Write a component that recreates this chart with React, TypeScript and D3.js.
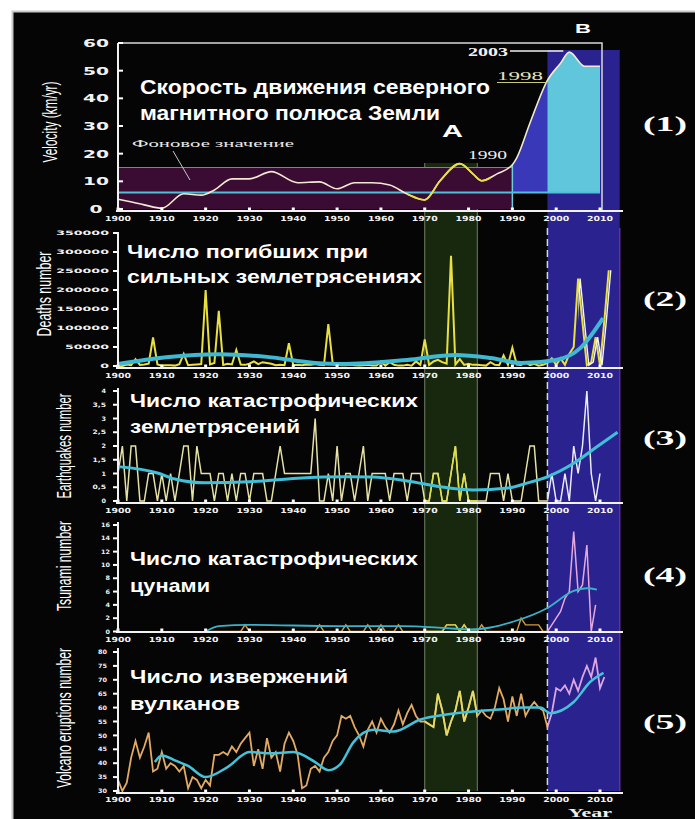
import React from "react";
import * as d3 from "d3";

// ---------- data ----------
const decades = d3.range(1900, 2011, 10);

// (1) velocity of the north magnetic pole, km/yr
const velYears = [1900, 1902, 1906, 1910, 1915, 1919, 1922, 1926, 1930, 1935, 1941, 1946, 1950, 1954, 1958, 1962, 1966, 1970, 1973.5, 1978, 1981, 1983, 1986.5, 1990, 1991, 1994, 1998, 2001, 2003, 2006.5, 2010];
const velValues = [3.5, 2.9, 1.5, 0.3, 5.5, 5, 6.9, 10.9, 10.9, 13.5, 9.5, 9.8, 7.3, 9.5, 9.5, 8.7, 5.4, 3.3, 10.2, 16.4, 12.7, 10.2, 12.7, 16, 18.5, 31, 46.5, 52.7, 56.7, 51.6, 51.6];
const velTicks = [0, 10, 20, 30, 40, 50, 60];
const velBase = 6; // background level
const velBandTop = 15;

// (2) deaths in strong earthquakes, thousands
const deathYears = d3.range(1900, 2013);
const deathValues = [
  0, 0, 4, 2, 18, 3, 4, 6, 75, 4,
  1, 2, 2, 1, 5, 32, 2, 3, 4, 5,
  200, 4, 8, 145, 3, 6, 4, 42, 4, 3,
  6, 12, 5, 10, 8, 6, 2, 3, 2, 60,
  2, 3, 2, 4, 3, 5, 3, 2, 110, 6,
  4, 2, 2, 3, 2, 1, 2, 3, 1, 1,
  12, 1, 10, 3, 1, 1, 3, 1, 12, 3,
  70, 3, 12, 16, 10, 6, 290, 4, 18, 3,
  6, 3, 3, 2, 1, 10, 3, 2, 28, 3,
  48, 4, 3, 10, 2, 6, 1, 3, 8, 20,
  3, 20, 3, 32, 50, 230, 115, 2, 10, 76,
  2, 120, 252,
];
const deathTrendYears = [1900, 1911, 1923, 1934, 1945, 1951, 1966, 1977, 1985, 1992, 2000, 2005.5, 2010.7];
const deathTrendValues = [5, 23, 31, 24, 8, 5, 16, 29, 21, 8, 16, 47, 126];
const deathTicks = [0, 50, 100, 150, 200, 250, 300, 350];

// (3) catastrophic earthquakes
const eqYears = d3.range(1900, 2011);
const eqValues = [
  1, 2, 0, 2, 2, 0, 0, 1, 1, 0,
  1, 0, 1, 0, 1, 2, 2, 0, 2, 1,
  1, 1, 0, 1, 1, 0, 1, 0, 1, 1,
  0, 1, 1, 1, 0, 0, 1, 2, 1, 1,
  1, 1, 1, 1, 1, 3, 0, 0, 1, 0,
  2, 0, 1, 1, 0, 1, 2, 0, 1, 1,
  1, 1, 0, 1, 1, 1, 0, 1, 1, 1,
  0, 0, 1, 1, 0, 0, 1, 2, 0, 1,
  0, 0, 0, 0, 0, 1, 1, 1, 0, 1,
  0, 0, 0, 1, 2, 2, 0, 0, 0, 1,
  0, 0, 1, 0, 2, 1, 2, 4, 1, 0,
  1,
];
const eqTrendYears = [1900, 1909, 1913, 1920, 1930, 1941, 1952, 1958, 1966, 1973.5, 1981, 1989, 1993.3, 1998, 2004, 2009.3, 2014];
const eqTrendValues = [1.25, 1.02, 0.8, 0.66, 0.7, 0.83, 0.88, 0.87, 0.73, 0.52, 0.4, 0.47, 0.65, 0.88, 1.37, 1.97, 2.5];
const eqTicks = [0, 0.5, 1, 1.5, 2, 2.5, 3, 3.5, 4];

// (4) catastrophic tsunami
const tsuYears = [1920, 1928, 1929, 1930, 1945, 1946, 1947, 1951, 1952, 1953, 1956, 1957, 1958, 1959, 1960, 1961, 1963, 1964, 1965, 1974, 1975, 1976, 1977, 1978, 1979, 1980, 1982, 1983, 1984, 1991, 1992, 1993, 1994, 1995, 1996, 1997, 1998, 1999, 2000, 2001, 2002, 2003, 2004, 2005, 2006, 2007, 2008, 2009];
const tsuValues = [0, 0, 1, 0, 0, 1, 0, 0, 1, 0, 0, 1, 0, 0, 1, 0, 0, 1, 0, 0, 1, 1, 1, 0, 1, 0, 0, 1, 0, 0, 2, 1, 1, 1, 1, 0, 0, 1, 2, 3, 5, 6, 15, 6, 7, 13, 0, 4];
const tsuTrendYears = [1920, 1923, 1930, 1950, 1965, 1975, 1980.4, 1985, 1990.3, 1997.9, 2004, 2007, 2009.3];
const tsuTrendValues = [0, 0.8, 1.0, 0.8, 0.8, 0.5, 0.3, 0.6, 1.5, 3.5, 6.1, 6.5, 6.3];
const tsuTicks = [0, 2, 4, 6, 8, 10, 12, 14, 16];

// (5) volcano eruptions
const volYears = d3.range(1900, 2012);
const volValues = [
  34, 30, 33, 42, 48, 42, 46, 51, 37, 38,
  44, 38, 40, 39, 37, 39, 31, 35, 34, 31,
  34, 32, 43, 43, 44, 43, 46, 44, 47, 49,
  51, 39, 45, 38, 49, 42, 44, 37, 47, 51,
  48, 43, 31, 32, 38, 39, 37, 42, 44, 48,
  50, 57, 56, 57, 53, 50, 46, 52, 55, 51,
  56, 53, 51, 54, 59, 54, 58, 61, 57, 55,
  55, 54, 53, 65, 59, 50, 55, 59, 66, 55,
  60, 66, 57, 59, 57, 56, 60, 67, 63, 55,
  64, 57, 65, 57, 60, 62, 60, 59, 53, 58,
  67, 66, 68, 65, 70, 66, 71, 75, 71, 78,
  67, 71,
];
const volTrendYears = [1908.4, 1910, 1913, 1916, 1920, 1925, 1930, 1935, 1940, 1945, 1948, 1950.7, 1953.7, 1958.3, 1962.9, 1969, 1975, 1981, 1987, 1992.6, 1996.4, 1998.6, 2004, 2007.8, 2010.8];
const volTrendValues = [40.4, 42.8, 41, 39, 35, 38.6, 44, 43.6, 44, 40.4, 37.5, 39.6, 47.5, 52, 51.4, 55.7, 57.5, 58.6, 59.3, 60, 60, 58, 62, 69.3, 72.5];
const volTicks = [30, 35, 40, 45, 50, 55, 60, 65, 70, 75, 80];

// ---------- scales ----------
const x = d3.scaleLinear().domain([1900, 2010]).range([118, 600]);
const yVel = d3.scaleLinear().domain([0, 60]).range([209, 43]);
const yDeath = d3.scaleLinear().domain([0, 350]).range([366, 233]);
const yEq = d3.scaleLinear().domain([0, 4]).range([501, 391]);
const yTsu = d3.scaleLinear().domain([0, 16]).range([631.5, 525]);
const yVol = d3.scaleLinear().domain([30, 80]).range([791, 652]);

const mk = (xs: number[], ys: number[], ysc: any, curve: any) =>
  d3.line<number>().x((_, i) => x(xs[i])).y((d) => ysc(d)).curve(curve)(ys) || "";

const TICK_FONT = "DejaVu Sans, Verdana, sans-serif";
const WHITE = "#f2f2f2";

function XAxis({ y0, labelY }: { y0: number; labelY: number }) {
  return (
    <g>
      <line x1={116} x2={623} y1={y0} y2={y0} stroke={WHITE} strokeWidth={2} />
      {decades.map((d) => (
        <g key={d}>
          <rect x={x(d) - 1.5} y={y0 - 3.5} width={3} height={2.5} fill="#fff" />
          <text x={x(d)} y={labelY} textAnchor="middle" fontSize={7} fontWeight="bold" fontFamily={TICK_FONT} fill={WHITE} textLength={26} lengthAdjust="spacingAndGlyphs">
            {d}
          </text>
        </g>
      ))}
    </g>
  );
}

function YAxis({ ysc, ticks, fmt, top, bottom, lx, anchor, size, charW }: any) {
  return (
    <g>
      <line x1={118} x2={118} y1={top} y2={bottom} stroke={WHITE} strokeWidth={2} />
      {ticks.map((t: number) => {
        const s = fmt(t);
        return (
          <g key={t}>
            <rect x={anchor === "middle" ? 118 : 113} y={ysc(t) - 1} width={anchor === "middle" ? 5 : 4} height={2} fill="#fff" />
            <text x={lx} y={ysc(t) + size * 0.36} textAnchor={anchor} fontSize={size} fontWeight="bold" fontFamily={TICK_FONT} fill={WHITE} textLength={s.length * charW} lengthAdjust="spacingAndGlyphs">
              {s}
            </text>
          </g>
        );
      })}
    </g>
  );
}

function Title({ lines, x0, ys, size, widths }: any) {
  return (
    <g fill="#fff" fontWeight="bold" fontSize={size} fontFamily="Liberation Sans, Arial, sans-serif">
      {lines.map((l: string, i: number) => (
        <text key={i} x={x0} y={ys[i]} textLength={widths[i]} lengthAdjust="spacingAndGlyphs">
          {l}
        </text>
      ))}
    </g>
  );
}

function YLabel({ text, bx, cy, len }: any) {
  return (
    <text transform={`translate(${bx},${cy}) rotate(-90)`} textAnchor="middle" fontSize={21} fill="#fff" fontFamily="Liberation Sans Narrow, Liberation Sans, Arial, sans-serif" textLength={len} lengthAdjust="spacingAndGlyphs">
      {text}
    </text>
  );
}

function Num({ label, y }: any) {
  return (
    <text x={643} y={y} fontSize={21} fontWeight="bold" fontFamily="Liberation Serif, Times New Roman, serif" fill="#fff" textLength={44} lengthAdjust="spacingAndGlyphs">
      {label}
    </text>
  );
}

const clip = (id: string, a: number, b: number) => (
  <clipPath id={id} key={id}>
    <rect x={x(a)} y={0} width={x(b) - x(a)} height={819} />
  </clipPath>
);

export default function App() {
  const smooth = d3.curveMonotoneX;
  const lin = d3.curveLinear;

  const velPath = mk(velYears, velValues, yVel, smooth);
  const velArea =
    d3.area<number>().x((_, i) => x(velYears[i])).y0(yVel(velBase)).y1((d) => yVel(d)).curve(smooth)(velValues) || "";

  const deathPath = mk(deathYears, deathValues, yDeath, lin);
  const eqPath = mk(eqYears, eqValues, yEq, lin);
  const tsuPath = mk(tsuYears, tsuValues, yTsu, lin);
  const volPath = mk(volYears, volValues, yVol, lin);

  const bandTop = 50;
  const bandBottom = 791;
  const greenTop = 163;

  const fmtDeath = (t: number) => String(t * 1000);
  const fmtComma = (t: number) => String(t).replace(".", ",");

  return (
    <svg width={695} height={819} style={{ position: "absolute", left: 0, top: 0 }}>
      <defs>
        {clip("c-pre98", 1850, 1998)}
        {clip("c-post98", 1998, 2040)}
        {clip("c-green", 1970, 1982)}
        {clip("c-9098", 1990, 1998)}
        {clip("c-yel", 1966, 1985)}
        {clip("c-post04", 2004.6, 2040)}
      </defs>
      <rect width={695} height={819} fill="#fff" />
      <rect x={12.5} y={11.5} width={690} height={815} fill="#050505" stroke="#c8c8c8" strokeWidth={2} />

      {/* background bands */}
      <rect x={x(1970)} y={greenTop} width={x(1982) - x(1970)} height={bandBottom - greenTop} fill="#18280f" />
      <line x1={x(1970)} x2={x(1970)} y1={greenTop} y2={bandBottom} stroke="#6f7f66" strokeWidth={1} />
      <line x1={x(1982)} x2={x(1982)} y1={greenTop} y2={bandBottom} stroke="#6f7f66" strokeWidth={1} />
      <rect x={x(1998)} y={bandTop} width={x(2014.5) - x(1998)} height={bandBottom - bandTop} fill="#2a228e" />
      <line x1={x(2014.5)} x2={x(2014.5)} y1={228} y2={bandBottom} stroke="#6a2e98" strokeWidth={1.5} />

      {/* ---------- panel 1 ---------- */}
      <rect x={x(1900)} y={yVel(velBandTop)} width={x(1990) - x(1900)} height={yVel(0) - yVel(velBandTop)} fill="#3a0b33" />
      <line x1={x(1900)} x2={x(1990)} y1={yVel(velBandTop)} y2={yVel(velBandTop)} stroke="#8c7c8c" strokeWidth={1} />
      <path d={velArea} fill="#3838b8" clipPath="url(#c-9098)" />
      <path d={velArea} fill="#5fc6dc" clipPath="url(#c-post98)" />
      <line x1={x(1990)} x2={x(1990)} y1={yVel(0)} y2={yVel(16)} stroke="#6cd0e0" strokeWidth={1.5} />
      <line x1={x(1900)} x2={x(2010)} y1={yVel(velBase)} y2={yVel(velBase)} stroke="#52bfd8" strokeWidth={2} />
      <path d={velPath} fill="none" stroke="#f2ead0" strokeWidth={1.6} />
      <path d={velPath} fill="none" stroke="#e6e040" strokeWidth={1.8} clipPath="url(#c-yel)" />
      <polyline points={`118,43 602,43 602,211`} fill="none" stroke="#d8d8d8" strokeWidth={1.5} />
      <XAxis y0={211} labelY={221} />
      <YAxis ysc={yVel} ticks={velTicks} fmt={String} top={43} bottom={211} lx={96} anchor="middle" size={11} charW={13} />
      <YLabel text="Velocity (km/yr)" bx={57} cy={122} len={81} />
      <Title lines={["Скорость движения северного", "магнитного полюса Земли"]} x0={140} ys={[94, 120]} size={21} widths={[350, 300]} />
      <text x={132} y={147} fontSize={11} fontFamily="Liberation Serif, serif" fill="#e8e8e8" textLength={162} lengthAdjust="spacingAndGlyphs">
        Фоновое значение
      </text>
      <line x1={173} y1={151} x2={190} y2={180} stroke="#c8c8c8" strokeWidth={1} />
      <text x={468} y={159} fontSize={12} fontFamily="Liberation Serif, serif" fill="#f0f0f0" textLength={39} lengthAdjust="spacingAndGlyphs">1990</text>
      <text x={468} y={56} fontSize={12} fontWeight="bold" fontFamily="Liberation Serif, serif" fill="#f0f0f0" textLength={40} lengthAdjust="spacingAndGlyphs">2003</text>
      <line x1={510} x2={x(2003) - 6} y1={51} y2={51} stroke="#f0f0f0" strokeWidth={1.5} />
      <text x={497} y={80} fontSize={12} fontFamily="Liberation Serif, serif" fill="#e4e4c0" textLength={46} lengthAdjust="spacingAndGlyphs">1998</text>
      <line x1={497} x2={x(1998)} y1={82.5} y2={82.5} stroke="#c8c878" strokeWidth={1.2} />
      <text x={442} y={137} fontSize={17} fontWeight="bold" fontFamily="Liberation Sans, Arial, sans-serif" fill="#fff" textLength={21} lengthAdjust="spacingAndGlyphs">A</text>
      <text x={575} y={33} fontSize={13} fontWeight="bold" fontFamily="Liberation Sans, Arial, sans-serif" fill="#fff" textLength={16} lengthAdjust="spacingAndGlyphs">B</text>
      <Num label="(1)" y={131} />

      {/* dashed 1998 marker */}
      <line x1={x(1998)} x2={x(1998)} y1={228} y2={bandBottom} stroke="#c9dbe8" strokeWidth={1.5} strokeDasharray="7,4" />

      {/* ---------- panel 2 ---------- */}
      <path d={deathPath} fill="none" stroke="#e8e040" strokeWidth={2} />
      <path d={deathPath} fill="none" stroke="#f4f4f4" strokeWidth={1.4} clipPath="url(#c-post04)" transform="translate(2,0)" />
      <path d={mk(deathTrendYears, deathTrendValues, yDeath, smooth)} fill="none" stroke="#3fb8d2" strokeWidth={4} />
      <XAxis y0={368} labelY={378} />
      <YAxis ysc={yDeath} ticks={deathTicks} fmt={fmtDeath} top={232} bottom={368} lx={109} anchor="end" size={6} charW={8.8} />
      <YLabel text="Deaths number" bx={51} cy={294} len={85} />
      <Title lines={["Число погибших при", "сильных землетрясениях"]} x0={127} ys={[258, 283]} size={19} widths={[241, 295]} />
      <Num label="(2)" y={306} />

      {/* ---------- panel 3 ---------- */}
      <path d={eqPath} fill="none" stroke="#e6e2a6" strokeWidth={1.5} clipPath="url(#c-pre98)" />
      <path d={eqPath} fill="none" stroke="#e0e040" strokeWidth={1.5} clipPath="url(#c-green)" />
      <path d={eqPath} fill="none" stroke="#ecebf8" strokeWidth={1.5} clipPath="url(#c-post98)" />
      <path d={mk(eqTrendYears, eqTrendValues, yEq, smooth)} fill="none" stroke="#3fc0d8" strokeWidth={3} />
      <XAxis y0={503} labelY={513} />
      <YAxis ysc={yEq} ticks={eqTicks} fmt={fmtComma} top={388} bottom={503} lx={106} anchor="end" size={6} charW={4.5} />
      <YLabel text="Earthquakes number" bx={71} cy={446} len={105} />
      <Title lines={["Число катастрофических", "землетрясений"]} x0={130} ys={[407, 433]} size={19} widths={[288, 170]} />
      <Num label="(3)" y={445} />

      {/* ---------- panel 4 ---------- */}
      <path d={tsuPath} fill="none" stroke="#d49a40" strokeWidth={1.4} clipPath="url(#c-pre98)" />
      <path d={tsuPath} fill="none" stroke="#d8d050" strokeWidth={1.4} clipPath="url(#c-green)" />
      <path d={tsuPath} fill="none" stroke="#e6a8e0" strokeWidth={1.5} clipPath="url(#c-post98)" />
      <path d={mk(tsuTrendYears, tsuTrendValues, yTsu, smooth)} fill="none" stroke="#3ab2ca" strokeWidth={1.8} />
      <XAxis y0={632} labelY={642} />
      <YAxis ysc={yTsu} ticks={tsuTicks} fmt={String} top={522} bottom={632} lx={110} anchor="end" size={6} charW={4.5} />
      <YLabel text="Tsunami number" bx={71} cy={566} len={90} />
      <Title lines={["Число катастрофических", "цунами"]} x0={130} ys={[565, 592]} size={19} widths={[288, 80]} />
      <Num label="(4)" y={582} />

      {/* ---------- panel 5 ---------- */}
      <path d={volPath} fill="none" stroke="#e2aa62" strokeWidth={1.8} clipPath="url(#c-pre98)" />
      <path d={volPath} fill="none" stroke="#e4dc60" strokeWidth={1.8} clipPath="url(#c-green)" />
      <path d={volPath} fill="none" stroke="#dca6e2" strokeWidth={1.8} clipPath="url(#c-post98)" />
      <path d={mk(volTrendYears, volTrendValues, yVol, smooth)} fill="none" stroke="#45c2da" strokeWidth={2.5} />
      <XAxis y0={793} labelY={802} />
      <YAxis ysc={yVol} ticks={volTicks} fmt={String} top={648} bottom={793} lx={107} anchor="end" size={6} charW={4.5} />
      <YLabel text="Volcano eruptions number" bx={71} cy={718} len={140} />
      <Title lines={["Число извержений", "вулканов"]} x0={130} ys={[683, 710]} size={19} widths={[218, 110]} />
      <Num label="(5)" y={729} />
      <text x={568} y={817} fontSize={13} fontWeight="bold" fontFamily="Liberation Serif, serif" fill="#f0f0f0" textLength={44} lengthAdjust="spacingAndGlyphs">Year</text>
    </svg>
  );
}
